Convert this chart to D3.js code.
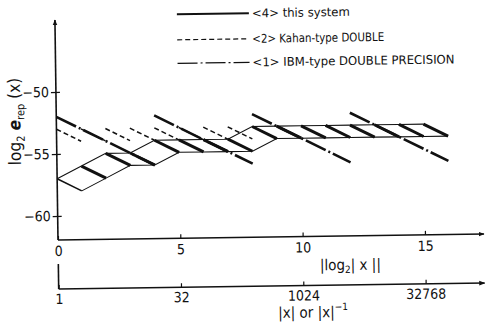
<!DOCTYPE html>
<html>
<head>
<meta charset="utf-8">
<script src="https://cdn.jsdelivr.net/npm/d3@7"></script>
<style>
  html, body { margin: 0; padding: 0; background: #fff; }
  svg text { font-family: 'Liberation Sans Narrow', 'DejaVu Sans Condensed', sans-serif; fill: #111; }
</style>
</head>
<body>
<div id="chart"></div>
<script>
// teeth of each system: start exponent, value at start, value at end of the tooth
const toothX   = [0, 1, 2, 3, 4, 5, 6, 7, 8, 9, 10, 11, 12, 13, 14, 15];
const toothX2  = [1, 2, 3, 4, 5, 6, 7, 8, 9, 10, 11, 12, 13, 14, 15, 16];
const sysTop   = [-57, -56, -55, -55, -54, -54, -54, -54, -53, -53, -53, -53, -53, -53, -53, -53];
const sysBot   = [-58, -57, -56, -56, -55, -55, -55, -55, -54, -54, -54, -54, -54, -54, -54, -54];
const kahanTop = [-53, -53, -53, -53, -53, -53, -53, -53, -53, -53, -53, -53, -53, -53, -53, -53];
const kahanBot = [-54, -54, -54, -54, -54, -54, -54, -54, -54, -54, -54, -54, -54, -54, -54, -54];
const ibmX     = [0, 4, 8, 12];
const ibmX2    = [4, 8, 12, 16];
const ibmTop   = [-52, -52, -52, -52];
const ibmBot   = [-56, -56, -56, -56];

const yTicks = [-50, -55, -60];
const xTicks = [0, 5, 10, 15];
const xTickLabels2 = ["1", "32", "1024", "32768"];

const legendNames = ["<4> this system", "<2> Kahan-type DOUBLE", "<1> IBM-type DOUBLE PRECISION"];
const legendDash = [null, "5,3", "20,3,2,3"];
const legendWidth = [2, 1.2, 1.2];
const legendTextLen = [98, 132, 202];

const width = 485, height = 327;

const svg = d3.select("#chart").append("svg")
    .attr("width", width)
    .attr("height", height);

const defs = svg.append("defs");
defs.append("marker")
    .attr("id", "arrow")
    .attr("viewBox", "0 0 10 10")
    .attr("refX", 9).attr("refY", 5)
    .attr("markerWidth", 6).attr("markerHeight", 6)
    .attr("markerUnits", "userSpaceOnUse")
    .attr("orient", "auto")
  .append("path")
    .attr("d", "M0,1 L10,5 L0,9 Z")
    .attr("fill", "#111");

// the scanned figure is slightly tilted
const g = svg.append("g").attr("transform", "rotate(-0.8, 58, 240)");

const x = d3.scaleLinear().domain([0, 15]).range([58, 425]);
const y = d3.scaleLinear().domain([-50, -60]).range([92, 216]);

const axisY0 = 240, axis2Y = 289;

// y axis
g.append("line")
    .attr("x1", x(0)).attr("x2", x(0))
    .attr("y1", axisY0).attr("y2", 20)
    .attr("stroke", "#111").attr("stroke-width", 1.6)
    .attr("marker-end", "url(#arrow)");

const yAxis = g.append("g")
    .attr("transform", `translate(${x(0)},0)`)
    .call(d3.axisLeft(y).tickValues(yTicks).tickSize(5).tickPadding(2));
yAxis.select(".domain").remove();
yAxis.selectAll(".tick line").attr("x1", 4).attr("stroke", "#111").attr("stroke-width", 1.3);
yAxis.selectAll(".tick text").attr("font-size", 14).attr("fill", "#111")
    .style("font-family", "'Liberation Sans Narrow','DejaVu Sans Condensed',sans-serif");

// first x axis: |log2|x||
g.append("line")
    .attr("x1", x(0)).attr("x2", 484)
    .attr("y1", axisY0).attr("y2", axisY0)
    .attr("stroke", "#111").attr("stroke-width", 1.6)
    .attr("marker-end", "url(#arrow)");

const xAxis = g.append("g")
    .attr("transform", `translate(0,${axisY0})`)
    .call(d3.axisBottom(x).tickValues(xTicks).tickSize(-4).tickPadding(6));
xAxis.select(".domain").remove();
xAxis.selectAll(".tick line").attr("stroke", "#111").attr("stroke-width", 1.2);
xAxis.selectAll(".tick text").attr("font-size", 14).attr("fill", "#111")
    .style("font-family", "'Liberation Sans Narrow','DejaVu Sans Condensed',sans-serif");

// second x axis: |x| or |x|^-1
g.append("line")
    .attr("x1", x(0)).attr("x2", 484)
    .attr("y1", axis2Y).attr("y2", axis2Y)
    .attr("stroke", "#111").attr("stroke-width", 1.6)
    .attr("marker-end", "url(#arrow)");
g.append("line")
    .attr("x1", x(0)).attr("x2", x(0))
    .attr("y1", axis2Y).attr("y2", axis2Y - 25)
    .attr("stroke", "#111").attr("stroke-width", 1.6);

const xAxis2 = g.append("g")
    .attr("transform", `translate(0,${axis2Y})`)
    .call(d3.axisBottom(x).tickValues(xTicks).tickSize(-4).tickPadding(5)
        .tickFormat((d, i) => xTickLabels2[i]));
xAxis2.select(".domain").remove();
xAxis2.selectAll(".tick line").attr("stroke", "#111").attr("stroke-width", 1.2);
xAxis2.selectAll(".tick text").attr("font-size", 14).attr("fill", "#111")
    .style("font-family", "'Liberation Sans Narrow','DejaVu Sans Condensed',sans-serif");

// axis titles
const t1 = g.append("text")
    .attr("x", 350).attr("y", 274)
    .attr("text-anchor", "middle")
    .attr("font-size", 15);
t1.append("tspan").text("|log");
t1.append("tspan").attr("font-size", 10).attr("dy", 3).text("2");
t1.append("tspan").attr("dy", -3).text("| x ||");

const t2 = g.append("text")
    .attr("x", 312).attr("y", 321)
    .attr("text-anchor", "middle")
    .attr("font-size", 15);
t2.append("tspan").text("|x|  or  |x|");
t2.append("tspan").attr("font-size", 10).attr("dy", -7).text("\u22121");

const t3 = g.append("text")
    .attr("transform", "translate(22,121) rotate(-90)")
    .attr("text-anchor", "middle")
    .attr("font-size", 17);
t3.append("tspan").text("log");
t3.append("tspan").attr("font-size", 11).attr("dy", 4).text("2");
t3.append("tspan").attr("dy", -4).attr("font-style", "italic").attr("font-weight", "bold").text(" e");
t3.append("tspan").attr("font-size", 11).attr("dy", 4).text("rep");
t3.append("tspan").attr("dy", -4).text(" (x)");

// marks
const plot = g.append("g");

// Kahan-type DOUBLE: dashed sawtooth
plot.selectAll(".kahan")
  .data(toothX)
  .join("line")
    .attr("class", "kahan")
    .attr("x1", (d, i) => x(d)).attr("y1", (d, i) => y(kahanTop[i]))
    .attr("x2", (d, i) => x(toothX2[i])).attr("y2", (d, i) => y(kahanBot[i]))
    .attr("stroke", "#111").attr("stroke-width", 1.5)
    .attr("stroke-dasharray", "5,3");

// this system: envelopes
const line = d3.line().x(d => x(d[0])).y(d => y(d[1]));
plot.append("path")
    .datum(toothX.map((d, i) => [d, sysTop[i]]))
    .attr("d", line)
    .attr("fill", "none").attr("stroke", "#111").attr("stroke-width", 1.1);
plot.append("path")
    .datum(toothX2.map((d, i) => [d, sysBot[i]]))
    .attr("d", line)
    .attr("fill", "none").attr("stroke", "#111").attr("stroke-width", 1.1);

// this system: teeth
plot.selectAll(".tooth")
  .data(toothX)
  .join("line")
    .attr("class", "tooth")
    .attr("x1", (d, i) => x(d)).attr("y1", (d, i) => y(sysTop[i]))
    .attr("x2", (d, i) => x(toothX2[i])).attr("y2", (d, i) => y(sysBot[i]))
    .attr("stroke", "#111")
    .attr("stroke-width", (d, i) => i === 0 ? 1.6 : 3);

// IBM-type DOUBLE PRECISION: dash-dot hexadecimal sawtooth
plot.selectAll(".ibm")
  .data(ibmX)
  .join("line")
    .attr("class", "ibm")
    .attr("x1", d => x(d)).attr("y1", (d, i) => y(ibmTop[i]))
    .attr("x2", (d, i) => x(ibmX2[i])).attr("y2", (d, i) => y(ibmBot[i]))
    .attr("stroke", "#111").attr("stroke-width", 2.6)
    .attr("stroke-dasharray", "22,3,2,3");

// legend
const legend = g.append("g").attr("transform", "translate(180,16)");
const rows = legend.selectAll("g")
  .data(legendNames)
  .join("g")
    .attr("transform", (d, i) => `translate(0,${[0, 25.5, 49][i]})`);
rows.append("line")
    .attr("x1", 0).attr("x2", 72)
    .attr("stroke", "#111")
    .attr("stroke-width", (d, i) => legendWidth[i])
    .attr("stroke-dasharray", (d, i) => legendDash[i]);
rows.append("text")
    .attr("x", 75).attr("y", 4)
    .attr("font-size", 12)
    .attr("textLength", (d, i) => legendTextLen[i])
    .attr("lengthAdjust", "spacingAndGlyphs")
    .text(d => d);
</script>
</body>
</html>
